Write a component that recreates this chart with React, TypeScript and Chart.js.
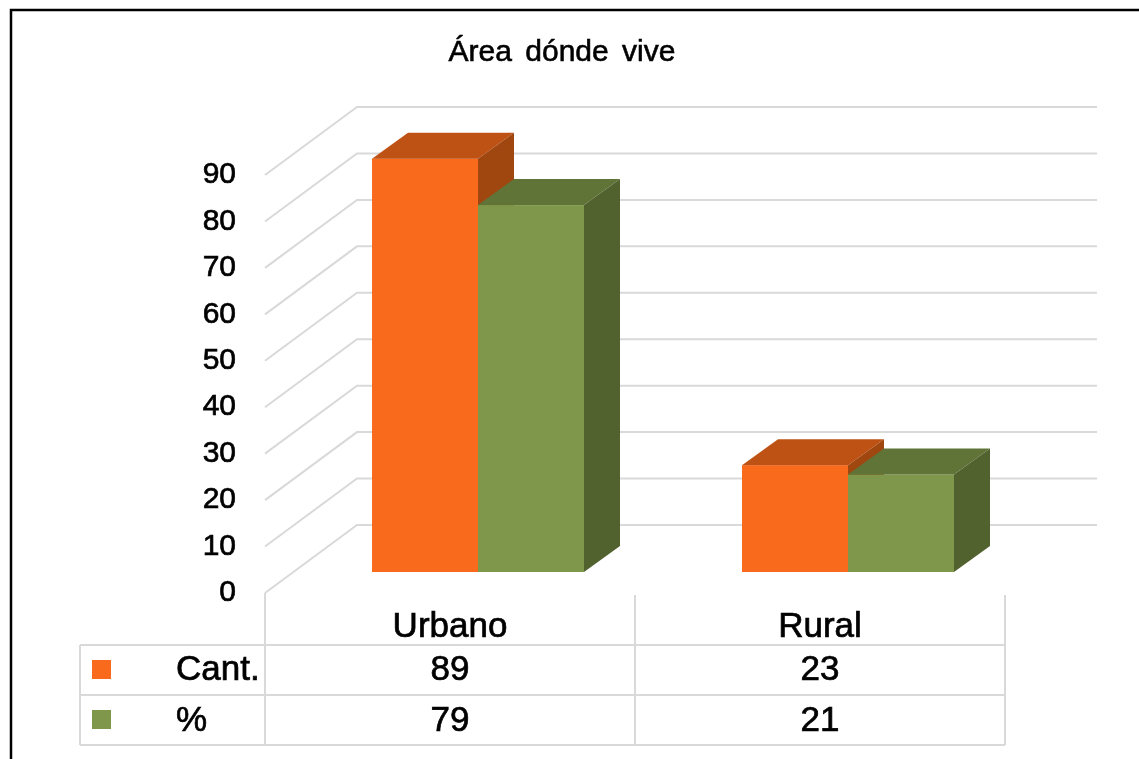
import React, { useEffect, useRef } from "react";
import { Chart, registerables } from "chart.js";

Chart.register(...registerables);

// ---- data ----
const chartTitle = "Área dónde vive";
const categories = ["Urbano", "Rural"];
const seriesNames = ["Cant.", "%"];
const cantValues = [89, 23];
const pctValues = [79, 21];
const yMin = 0;
const yMax = 90;
const yStep = 10;

// ---- styles ----
const FRONT = ["#F96A1C", "#7E974A"];
const TOP = ["#BE5215", "#607438"];
const SIDE = ["#A0460F", "#51622F"];
const GRID = "#D9D9D9";
const FONT = "'Liberation Sans', Arial, sans-serif";

const W = 1139;
const H = 759;
const WALL_DX = 92;
const WALL_DY = 68;
const BAR_OFF_X = 28;
const BAR_OFF_Y = 21;
const BAR_DX = 36;
const BAR_DY = 26;

function boldText(ctx: CanvasRenderingContext2D, text: string, x: number, y: number, sw: number) {
  ctx.lineWidth = sw;
  ctx.strokeStyle = ctx.fillStyle as string;
  ctx.strokeText(text, x, y);
  ctx.fillText(text, x, y);
}

const depthPlugin = {
  id: "depth3d",
  beforeDatasetsDraw(chart: any) {
    const { ctx, chartArea, scales } = chart;
    const ys = scales.y;
    ctx.save();
    // walls / gridlines
    ctx.strokeStyle = GRID;
    ctx.lineWidth = 2;
    ys.ticks.forEach((t: any) => {
      const py = ys.getPixelForValue(t.value);
      ctx.beginPath();
      ctx.moveTo(chartArea.left, py);
      ctx.lineTo(chartArea.left + WALL_DX, py - WALL_DY);
      ctx.lineTo(chartArea.right + WALL_DX, py - WALL_DY);
      ctx.stroke();
    });
    // 3D bars
    chart.data.datasets.forEach((_ds: any, i: number) => {
      const meta = chart.getDatasetMeta(i);
      meta.data.forEach((el: any) => {
        const p = el.getProps(["x", "y", "base", "width"], true);
        const l = p.x - p.width / 2 + BAR_OFF_X;
        const r = l + p.width;
        const t = p.y - BAR_OFF_Y;
        const b = p.base - BAR_OFF_Y;
        ctx.fillStyle = FRONT[i];
        ctx.fillRect(l, t, r - l, b - t);
        ctx.fillStyle = TOP[i];
        ctx.beginPath();
        ctx.moveTo(l, t);
        ctx.lineTo(l + BAR_DX, t - BAR_DY);
        ctx.lineTo(r + BAR_DX, t - BAR_DY);
        ctx.lineTo(r, t);
        ctx.closePath();
        ctx.fill();
        ctx.fillStyle = SIDE[i];
        ctx.beginPath();
        ctx.moveTo(r, t);
        ctx.lineTo(r + BAR_DX, t - BAR_DY);
        ctx.lineTo(r + BAR_DX, b - BAR_DY);
        ctx.lineTo(r, b);
        ctx.closePath();
        ctx.fill();
      });
    });
    ctx.restore();
    return false;
  },
  afterDraw(chart: any) {
    const { ctx, chartArea, scales } = chart;
    const xs = scales.x;
    const L = chartArea.left;
    const R = chartArea.right;
    const B = chartArea.bottom;
    const n = categories.length;
    const colW = (R - L) / n;
    const tableLeft = 80;
    const r0 = B + 52;
    const r1 = r0 + 50;
    const r2 = r1 + 50;
    ctx.save();
    // border
    ctx.strokeStyle = "#000";
    ctx.lineWidth = 2.5;
    ctx.strokeRect(11, 10, W + 50, H + 50);

    // title
    ctx.fillStyle = "#000";
    ctx.font = `30px ${FONT}`;
    ctx.textAlign = "center";
    ctx.textBaseline = "alphabetic";
    (ctx as any).wordSpacing = "5px";
    boldText(ctx, chartTitle, 562, 61, 0.6);
    (ctx as any).wordSpacing = "0px";

    // data table grid
    ctx.strokeStyle = GRID;
    ctx.lineWidth = 2;
    ctx.beginPath();
    ctx.moveTo(L, B);
    ctx.lineTo(L, r2);
    for (let k = 1; k <= n; k++) {
      ctx.moveTo(L + k * colW, B + 2);
      ctx.lineTo(L + k * colW, r2);
    }
    ctx.moveTo(tableLeft, r0);
    ctx.lineTo(tableLeft, r2);
    [r0, r1, r2].forEach((yy) => {
      ctx.moveTo(tableLeft, yy);
      ctx.lineTo(R, yy);
    });
    ctx.stroke();

    // table text
    ctx.fillStyle = "#000";
    ctx.font = `35px ${FONT}`;
    ctx.textAlign = "center";
    categories.forEach((c, j) => {
      boldText(ctx, c, xs.getPixelForValue(j), B + 44, 0.7);
    });
    const rows = [cantValues, pctValues];
    const baselines = [r0 + 35, r1 + 36];
    rows.forEach((vals, i) => {
      ctx.textAlign = "center";
      ctx.fillStyle = "#000";
      vals.forEach((v, j) => {
        boldText(ctx, String(v), xs.getPixelForValue(j), baselines[i], 0.7);
      });
      ctx.textAlign = "left";
      boldText(ctx, seriesNames[i], 176, baselines[i], 0.7);
      ctx.fillStyle = FRONT[i];
      ctx.fillRect(92, (i === 0 ? r0 : r1) + 15, 19, 19);
    });
    ctx.restore();
  },
};

export default function App() {
  const ref = useRef<HTMLCanvasElement | null>(null);
  useEffect(() => {
    if (!ref.current) return;
    const chart = new Chart(ref.current, {
      type: "bar",
      data: {
        labels: categories,
        datasets: [
          { label: seriesNames[0], data: cantValues, backgroundColor: FRONT[0] },
          { label: seriesNames[1], data: pctValues, backgroundColor: FRONT[1] },
        ],
      },
      options: {
        responsive: false,
        animation: false,
        devicePixelRatio: 1,
        layout: { padding: { top: 175, bottom: 166, right: 134, left: 0 } },
        datasets: { bar: { categoryPercentage: 0.573, barPercentage: 1 } },
        plugins: {
          legend: { display: false },
          title: { display: false },
          tooltip: { enabled: false },
        },
        scales: {
          x: { type: "category", display: false, offset: true },
          y: {
            min: yMin,
            max: yMax,
            afterFit: (axis: any) => {
              axis.width = 265;
            },
            ticks: {
              stepSize: yStep,
              padding: 29,
              color: "#000",
              textStrokeColor: "#000",
              textStrokeWidth: 0.7,
              font: { family: FONT, size: 30 },
            },
            grid: { display: false, drawTicks: false },
            border: { display: false },
          },
        },
      },
      plugins: [depthPlugin],
    } as any);
    return () => chart.destroy();
  }, []);
  return (
    <div style={{ position: "fixed", left: 0, top: 0, width: W, height: H, background: "#fff" }}>
      <canvas ref={ref} width={W} height={H} style={{ display: "block" }} />
    </div>
  );
}
